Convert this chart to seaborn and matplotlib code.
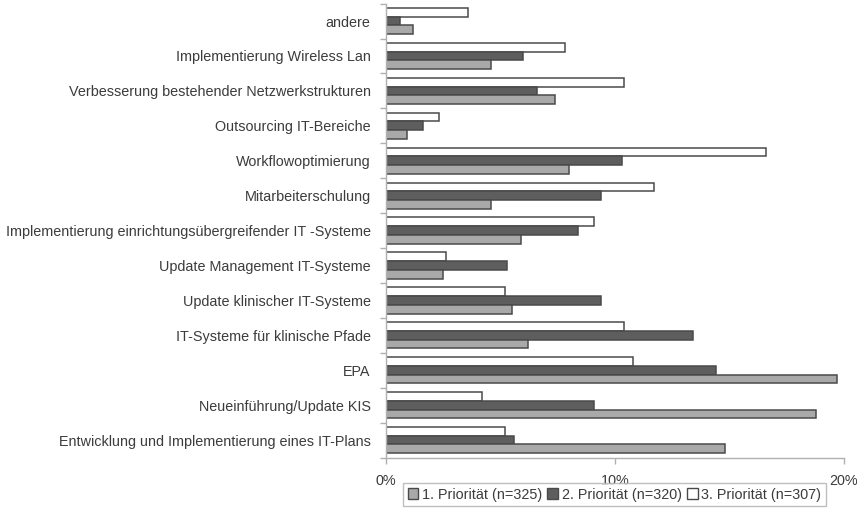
import matplotlib
matplotlib.use("Agg")
import matplotlib.pyplot as plt
import seaborn as sns
import pandas as pd
from matplotlib.ticker import FuncFormatter

categories = [
    "andere",
    "Implementierung Wireless Lan",
    "Verbesserung bestehender Netzwerkstrukturen",
    "Outsourcing IT-Bereiche",
    "Workflowoptimierung",
    "Mitarbeiterschulung",
    "Implementierung einrichtungsübergreifender IT -Systeme",
    "Update Management IT-Systeme",
    "Update klinischer IT-Systeme",
    "IT-Systeme für klinische Pfade",
    "EPA",
    "Neueinführung/Update KIS",
    "Entwicklung und Implementierung eines IT-Plans",
]

series_names = [
    "1. Priorität (n=325)",
    "2. Priorität (n=320)",
    "3. Priorität (n=307)",
]

prio1 = [1.2, 4.6, 7.4, 0.9, 8.0, 4.6, 5.9, 2.5, 5.5, 6.2, 19.7, 18.8, 14.8]
prio2 = [0.6, 6.0, 6.6, 1.6, 10.3, 9.4, 8.4, 5.3, 9.4, 13.4, 14.4, 9.1, 5.6]
prio3 = [3.6, 7.8, 10.4, 2.3, 16.6, 11.7, 9.1, 2.6, 5.2, 10.4, 10.8, 4.2, 5.2]

x_ticks = [0, 10, 20]

colors = {
    series_names[0]: "#a9a9a9",
    series_names[1]: "#5e5e5e",
    series_names[2]: "#ffffff",
}

rows = []
for name, vals in zip(series_names, [prio1, prio2, prio3]):
    for cat, v in zip(categories, vals):
        rows.append({"Bereich": cat, "Priorität": name, "Anteil": v})
df = pd.DataFrame(rows)

sns.set_style("white")
plt.rcParams["font.family"] = ["Liberation Sans", "DejaVu Sans"]
text_color = "#3c3c3c"
fs = 10.4

fig = plt.figure(figsize=(8.57, 5.17), dpi=100)
ax = fig.add_axes([0.4504, 0.115, 0.5344, 0.878])

sns.barplot(
    data=df, y="Bereich", x="Anteil", hue="Priorität",
    order=categories, hue_order=series_names[::-1],
    palette=colors, width=0.75, orient="h",
    edgecolor="#4a4a4a", linewidth=1.1, ax=ax, legend=False,
)

ax.set_xlim(0, 20)
ax.set_xticks(x_ticks)
ax.xaxis.set_major_formatter(FuncFormatter(lambda v, _: f"{v:.0f}%"))
ax.set_xlabel("")
ax.set_ylabel("")

for side in ["top", "right"]:
    ax.spines[side].set_visible(False)
for side in ["left", "bottom"]:
    ax.spines[side].set_color("#b0b0b0")
    ax.spines[side].set_linewidth(1.0)

ax.tick_params(axis="x", colors="#b0b0b0", labelcolor=text_color,
               labelsize=fs, length=4, width=1, direction="out", pad=8, bottom=True)
ax.tick_params(axis="y", labelcolor=text_color, labelsize=fs, length=0, pad=11)

# small separators between category groups on the left axis
ax.set_yticks([i + 0.5 for i in range(-1, len(categories))], minor=True)
ax.tick_params(axis="y", which="minor", left=True, length=4, width=1, color="#b0b0b0")

handles = [
    plt.Rectangle((0, 0), 1, 1, facecolor=colors[n], edgecolor="#4a4a4a", linewidth=1.0)
    for n in series_names
]
leg = fig.legend(
    handles, series_names, loc="center", bbox_to_anchor=(0.717, 0.043),
    ncol=3, frameon=True, fancybox=False, fontsize=fs,
    handlelength=0.75, handleheight=0.75, handletextpad=0.25, columnspacing=0.35,
    borderpad=0.3, labelcolor=text_color,
)
leg.get_frame().set_edgecolor("#b0b0b0")
leg.get_frame().set_linewidth(1.0)

fig.savefig("out.png", dpi=100)
